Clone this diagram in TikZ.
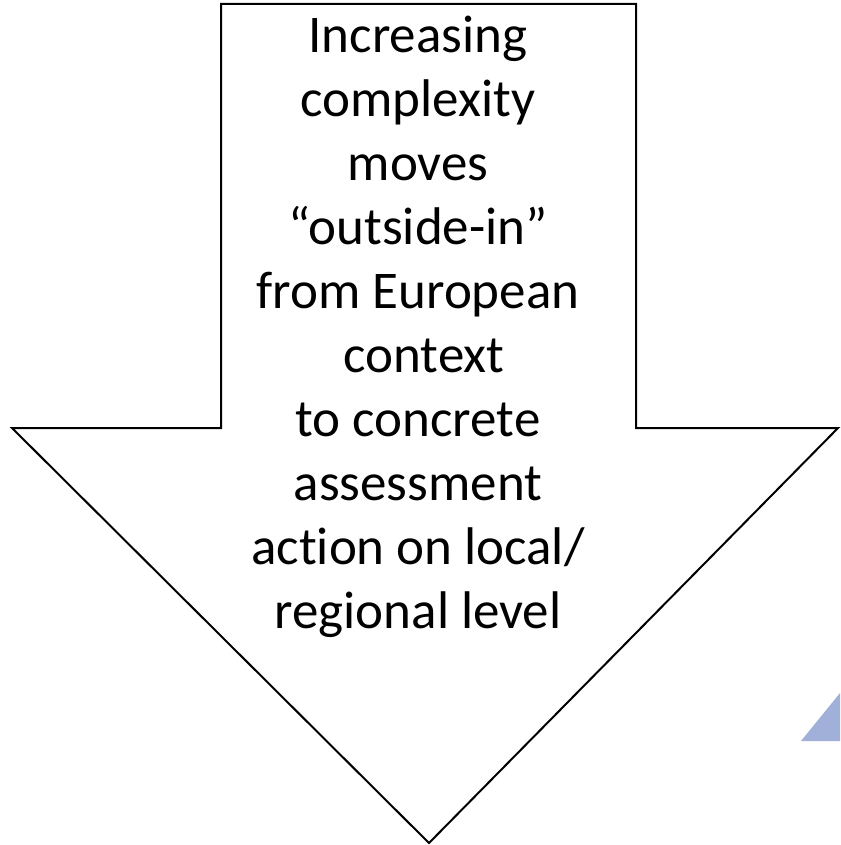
\documentclass[tikz,border=0pt]{standalone}
\usepackage{fontspec}
\setmainfont[Ligatures={NoCommon}]{Carlito}
\usepackage{xcolor}
\usetikzlibrary{positioning}
\definecolor{wedgeblue}{RGB}{160,176,216}
\tikzset{
  bigarrow/.style={draw=black, fill=white, line width=2pt, line join=miter},
  blurb/.style={align=center, font=\fontsize{53}{64}\selectfont, inner sep=0pt, anchor=north},
  wedge/.style={fill=wedgeblue, draw=none},
}

\begin{document}
\begin{tikzpicture}[x=1pt,y=-1pt]
\useasboundingbox (0,0) rectangle (840,845);
% arrow outline
\coordinate (sl) at (221,4);
\coordinate (sr) at (636,4);
\coordinate (bl) at (221,428);
\coordinate (br) at (636,428);
\coordinate (hl) at (12,428);
\coordinate (hr) at (838,428);
\coordinate (tip) at (429,843);
\draw[bigarrow] (sl) -- (sr) -- (br) -- (hr) -- (tip) -- (hl) -- (bl) -- cycle;
\node[blurb] (msg) at (418,16) {Increasing\\complexity\\moves\\``outside-in''\\from European\\\hspace*{12pt}context\\to concrete\\assessment\\action on local/\\regional level};
% corner wedge
\fill[wedge] (840,693) -- (840,741) -- (801,741) -- cycle;
\end{tikzpicture}
\end{document}
